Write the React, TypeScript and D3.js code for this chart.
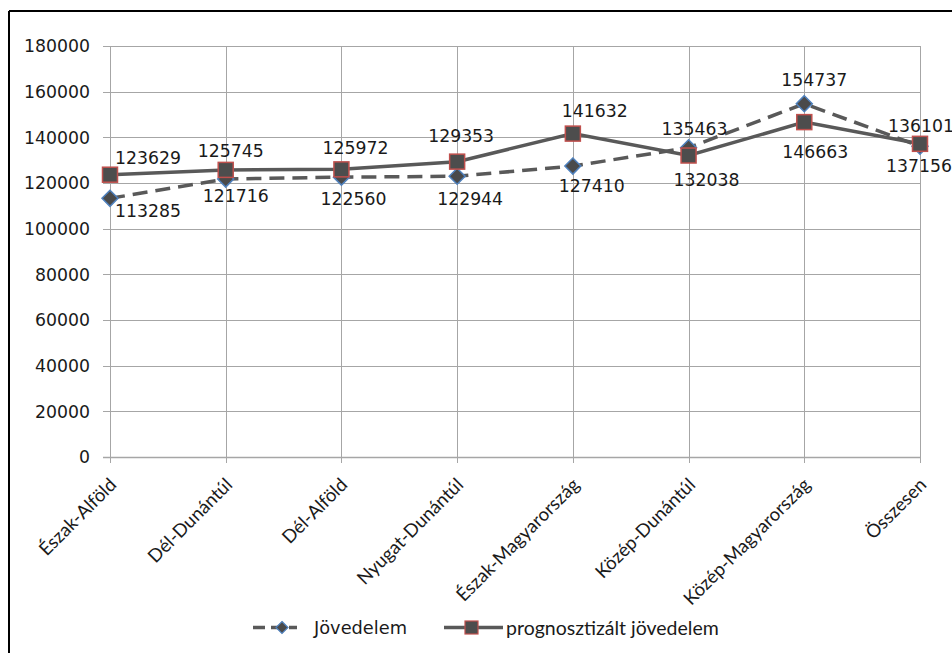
import React from "react";
import * as d3 from "d3";

const categories = [
  "Észak-Alföld",
  "Dél-Dunántúl",
  "Dél-Alföld",
  "Nyugat-Dunántúl",
  "Észak-Magyarország",
  "Közép-Dunántúl",
  "Közép-Magyarország",
  "Összesen",
];
const jovedelem = [113285, 121716, 122560, 122944, 127410, 135463, 154737, 136101];
const prognozis = [123629, 125745, 125972, 129353, 141632, 132038, 146663, 137156];
const yTicks = [0, 20000, 40000, 60000, 80000, 100000, 120000, 140000, 160000, 180000];
const seriesNames = ["Jövedelem", "prognosztizált jövedelem"];

// label offsets relative to the point (dx of text centre, dy of baseline)
const jovLabelOffset: [number, number][] = [
  [38, 19], [10, 23], [12, 28], [13, 29], [19, 26], [6, -13], [10, -18], [1, -14],
];
const progLabelOffset: [number, number][] = [
  [38, -11], [5, -13], [14, -15], [4, -20], [22, -17], [18, 30], [11, 36], [-1, 28],
];

const W = 952;
const H = 653;
const left = 110;
const right = 920;
const top = 46;
const bottom = 457;

export default function App() {
  const x = d3.scalePoint<string>().domain(categories).range([left, right]);
  const y = d3.scaleLinear().domain([0, 180000]).range([bottom, top]);

  const line = d3
    .line<number>()
    .x((_, i) => x(categories[i]) as number)
    .y((d) => y(d));

  const numFont = "'DejaVu Sans', sans-serif";
  const catFont = "Lato, 'Open Sans', sans-serif";
  const gridColor = "#a6a6a6";
  const lineColor = "#595959";

  const diamond = (cx: number, cy: number, r: number) =>
    `M${cx},${cy - r}L${cx + r},${cy}L${cx},${cy + r}L${cx - r},${cy}Z`;

  return (
    <svg
      width={W}
      height={H}
      style={{ position: "absolute", left: 0, top: 0, background: "#fff" }}
    >
      <rect x={0} y={0} width={W} height={H} fill="#fff" />
      {/* outer border */}
      <line x1={9} y1={11} x2={W + 2} y2={11} stroke="#000" strokeWidth={2} />
      <line x1={9} y1={11} x2={9} y2={H + 2} stroke="#000" strokeWidth={2} />

      {/* horizontal gridlines + y tick labels */}
      {yTicks.map((t) => (
        <g key={t}>
          <line
            x1={left - 7}
            x2={right}
            y1={Math.round(y(t)) + 0.5}
            y2={Math.round(y(t)) + 0.5}
            stroke={gridColor}
            strokeWidth={t === 0 ? 1.5 : 1}
          />
          <text
            x={90}
            y={y(t)}
            dy="0.36em"
            textAnchor="end"
            fontFamily={numFont}
            fontSize={17.3}
            fill="#1a1a1a"
          >
            {t}
          </text>
        </g>
      ))}

      {/* vertical gridlines + category labels */}
      {categories.map((c) => {
        const cx = Math.round(x(c) as number) + 0.5;
        return (
          <g key={c}>
            <line x1={cx} x2={cx} y1={top} y2={bottom + 6} stroke={gridColor} strokeWidth={1} />
            <text
              transform={`translate(${cx + 7},${bottom + 29}) rotate(-45)`}
              textAnchor="end"
              fontFamily={catFont}
              fontSize={18.5}
              fill="#1a1a1a"
            >
              {c}
            </text>
          </g>
        );
      })}

      {/* Jövedelem dashed line */}
      <path
        d={line(jovedelem) || ""}
        fill="none"
        stroke={lineColor}
        strokeWidth={3.5}
        strokeDasharray="15 8"
      />
      {/* prognosis solid line */}
      <path d={line(prognozis) || ""} fill="none" stroke={lineColor} strokeWidth={3.5} />

      {/* diamond markers */}
      {jovedelem.map((v, i) => (
        <path
          key={"d" + i}
          d={diamond(x(categories[i]) as number, y(v), 8)}
          fill="#4a4a4a"
          stroke="#4f81bd"
          strokeWidth={1.5}
        />
      ))}
      {/* square markers */}
      {prognozis.map((v, i) => (
        <rect
          key={"s" + i}
          x={(x(categories[i]) as number) - 7.5}
          y={y(v) - 7.5}
          width={15}
          height={15}
          fill="#4d4d4d"
          stroke="#c0504d"
          strokeWidth={1.5}
        />
      ))}

      {/* data labels */}
      {jovedelem.map((v, i) => (
        <text
          key={"jl" + i}
          x={(x(categories[i]) as number) + jovLabelOffset[i][0]}
          y={y(v) + jovLabelOffset[i][1]}
          textAnchor="middle"
          fontFamily={numFont}
          fontSize={17.3}
          fill="#1a1a1a"
        >
          {v}
        </text>
      ))}
      {prognozis.map((v, i) => (
        <text
          key={"pl" + i}
          x={(x(categories[i]) as number) + progLabelOffset[i][0]}
          y={y(v) + progLabelOffset[i][1]}
          textAnchor="middle"
          fontFamily={numFont}
          fontSize={17.3}
          fill="#1a1a1a"
        >
          {v}
        </text>
      ))}

      {/* legend */}
      <g>
        <line x1={253} x2={297} y1={627.5} y2={627.5} stroke={lineColor} strokeWidth={3.5} strokeDasharray="12 6" />
        <path d={diamond(282, 627.5, 6)} fill="#4a4a4a" stroke="#4f81bd" strokeWidth={1.2} />
        <text x={314} y={627.5} dy="0.36em" fontFamily={numFont} fontSize={17.8} fill="#1a1a1a">
          {seriesNames[0]}
        </text>
        <line x1={444} x2={503} y1={627.5} y2={627.5} stroke={lineColor} strokeWidth={3.5} />
        <rect x={465} y={621} width={13} height={13} fill="#4d4d4d" stroke="#c0504d" strokeWidth={1.2} />
        <text x={506} y={627.5} dy="0.36em" fontFamily={catFont} fontSize={19.5} fill="#1a1a1a">
          {seriesNames[1]}
        </text>
      </g>
    </svg>
  );
}
